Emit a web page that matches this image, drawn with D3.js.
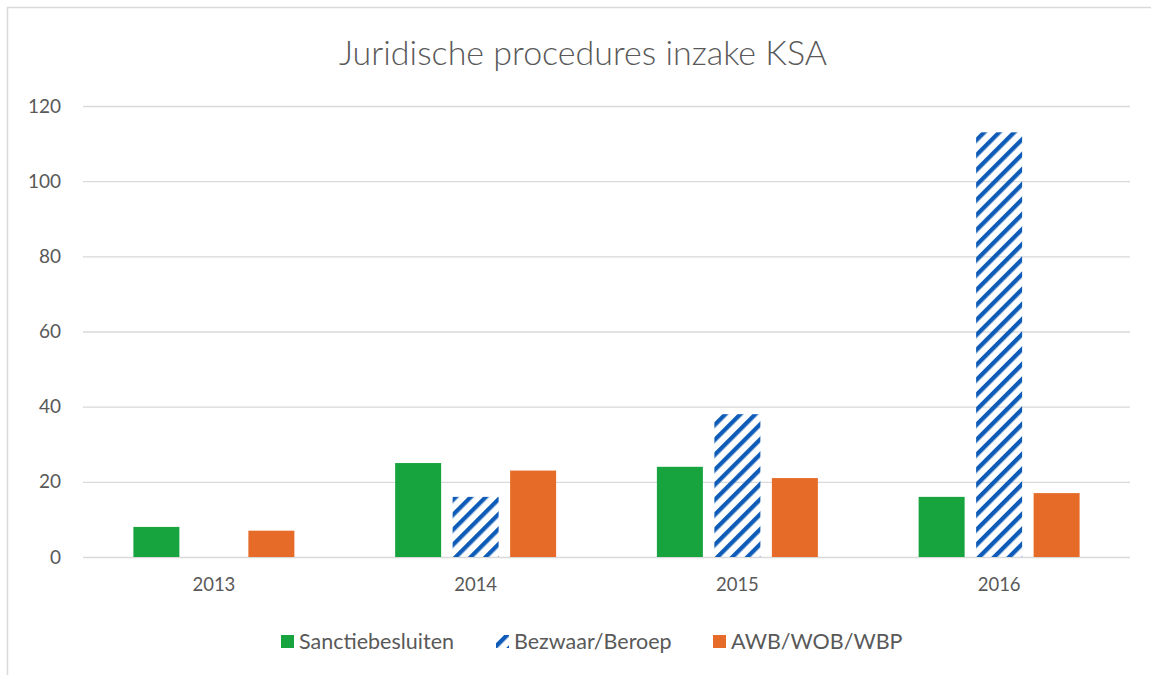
<!DOCTYPE html>
<html>
<head>
<meta charset="utf-8">
<script src="https://cdn.jsdelivr.net/npm/d3@7"></script>
<style>
  body { margin: 0; background: #fff; }
  svg text { font-family: Lato, "Open Sans", sans-serif; fill: #595959; }
</style>
</head>
<body>
<div id="chart"></div>
<script>
// data
const years = ['2013', '2014', '2015', '2016'];
const seriesNames = ['Sanctiebesluiten', 'Bezwaar/Beroep', 'AWB/WOB/WBP'];
const sanctie = [8, 25, 24, 16];
const bezwaar = [0, 16, 38, 113];
const awb = [7, 23, 21, 17];
const yTicks = [0, 20, 40, 60, 80, 100, 120];

const width = 1151, height = 675;
const plot = {left: 83, right: 1130, top: 106, bottom: 557};

const svg = d3.select('#chart').append('svg')
    .attr('width', width)
    .attr('height', height);

// hatch pattern for Bezwaar/Beroep
const defs = svg.append('defs');
const hatch = defs.append('pattern')
    .attr('id', 'hatch')
    .attr('patternUnits', 'userSpaceOnUse')
    .attr('width', 10.6)
    .attr('height', 10.6)
    .attr('patternTransform', 'rotate(45)');
hatch.append('rect')
    .attr('width', 4.3)
    .attr('height', 10.6)
    .attr('fill', '#0e5cb8');

const fills = ['#17a43f', 'url(#hatch)', '#e66a28'];

// chart area border (right and bottom run off the picture)
svg.append('rect')
    .attr('x', 7.5).attr('y', 7.5)
    .attr('width', 1170).attr('height', 700)
    .attr('fill', 'none')
    .attr('stroke', '#d9d9d9')
    .attr('stroke-width', 1.5);

const x0 = d3.scaleBand()
    .domain(years)
    .range([plot.left, plot.right])
    .paddingInner(0.385)
    .paddingOuter(0.1925);

const x1 = d3.scaleBand()
    .domain(seriesNames)
    .range([0, x0.bandwidth()])
    .paddingInner(0.2);

const y = d3.scaleLinear()
    .domain([0, 120])
    .range([plot.bottom, plot.top]);

// y axis + gridlines
const yAxis = svg.append('g')
    .attr('transform', `translate(${plot.left},0)`)
    .call(d3.axisLeft(y).tickValues(yTicks).tickSize(-(plot.right - plot.left)).tickPadding(22));
yAxis.select('.domain').remove();
yAxis.selectAll('line').attr('stroke', '#d9d9d9').attr('stroke-width', 1.3);
yAxis.selectAll('text').attr('font-size', 19).attr('fill', '#595959');

// x axis labels
const xAxis = svg.append('g')
    .attr('transform', `translate(0,${plot.bottom})`)
    .call(d3.axisBottom(x0).tickSize(0).tickPadding(21));
xAxis.select('.domain').remove();
xAxis.selectAll('text').attr('font-size', 18.5).attr('fill', '#595959');

// bars
const rows = years.map((yr, i) => ({year: yr, values: [sanctie[i], bezwaar[i], awb[i]]}));

svg.append('g').selectAll('g')
    .data(rows)
    .enter()
    .append('g')
        .attr('transform', d => `translate(${x0(d.year)},0)`)
    .selectAll('rect')
    .data(d => d.values.map((v, j) => ({name: seriesNames[j], value: v, j: j})))
    .enter()
    .append('rect')
        .attr('x', d => x1(d.name))
        .attr('y', d => y(d.value))
        .attr('width', x1.bandwidth())
        .attr('height', d => y(0) - y(d.value))
        .attr('fill', d => fills[d.j]);

// title
svg.append('text')
    .attr('x', 583)
    .attr('y', 65)
    .attr('text-anchor', 'middle')
    .attr('font-size', 34)
    .attr('font-weight', 300)
    .text('Juridische procedures inzake KSA');

// legend
const legendX = [281, 496, 713];
const legend = svg.append('g');
seriesNames.forEach((name, j) => {
    legend.append('rect')
        .attr('x', legendX[j])
        .attr('y', 635)
        .attr('width', 13)
        .attr('height', 13)
        .attr('fill', fills[j]);
    legend.append('text')
        .attr('x', legendX[j] + 18)
        .attr('y', 649)
        .attr('font-size', 21.5)
        .text(name);
});
</script>
</body>
</html>
